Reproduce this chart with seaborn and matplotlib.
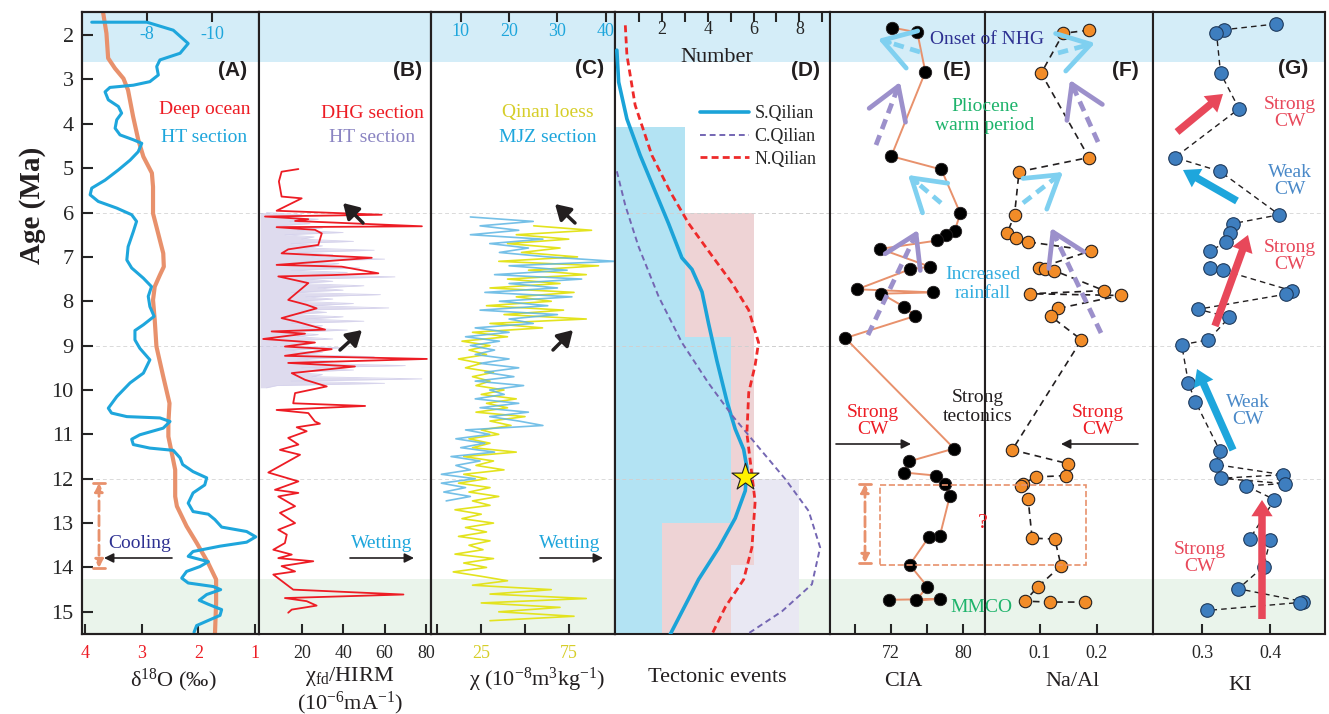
import numpy as np
import matplotlib
matplotlib.use('Agg')
import matplotlib.pyplot as plt
import seaborn as sns
from matplotlib.patches import FancyArrowPatch, Rectangle
from matplotlib.lines import Line2D

sns.set_style('white')
plt.rcParams['font.family'] = ['Liberation Serif', 'DejaVu Sans']
plt.rcParams['mathtext.fontset'] = 'custom'
plt.rcParams['mathtext.rm'] = 'Liberation Serif'
plt.rcParams['mathtext.it'] = 'Liberation Serif:italic'
plt.rcParams['axes.linewidth'] = 1.5
plt.rcParams['axes.edgecolor'] = '#231F20'
plt.rcParams['axes.unicode_minus'] = False

# ---------------- data ----------------
# (A) oxygen isotopes
ht_age = [1.71, 1.71, 1.89, 2.19, 2.41, 2.56, 2.71, 2.90, 3.05, 3.13, 3.18, 3.28, 3.46, 3.61, 3.76,
          3.91, 4.10, 4.25, 4.36, 4.44, 4.63, 4.82, 5.04, 5.27, 5.45, 5.60, 5.75, 5.90, 6.05, 6.20,
          6.43, 6.77, 7.07, 7.25, 7.48, 7.67, 7.89, 8.12, 8.34, 8.53, 8.66, 8.87, 9.06, 9.32, 9.62,
          9.84, 10.15, 10.41, 10.52, 10.60, 10.63, 10.71, 10.86, 11.01, 11.11, 11.23, 11.31, 11.36,
          11.53, 11.68, 11.84, 11.98, 12.14, 12.32, 12.55, 12.74, 12.80, 12.92, 13.09, 13.19, 13.31,
          13.43, 13.52, 13.64, 13.75, 13.82, 13.87, 13.98, 14.09, 14.24, 14.35, 14.43, 14.50, 14.61,
          14.74, 14.83, 14.95, 15.08, 15.21, 15.31, 15.46]
ht_d18o = [-6.30, -8.00, -8.81, -9.27, -9.02, -8.40, -8.30, -8.35, -8.09, -7.58, -6.86, -6.71, -6.81,
           -7.12, -7.22, -7.07, -7.02, -7.17, -7.58, -7.84, -7.73, -7.48, -7.12, -6.71, -6.30, -6.25,
           -6.50, -7.07, -7.53, -7.68, -7.58, -7.42, -7.38, -7.53, -7.89, -8.14, -8.04, -8.09, -8.22,
           -7.89, -7.63, -7.63, -7.78, -8.09, -7.89, -7.48, -7.07, -6.81, -6.91, -7.38, -8.40, -8.71,
           -8.50, -7.78, -7.53, -7.58, -8.09, -8.81, -9.02, -9.10, -9.42, -9.84, -9.78, -9.42, -9.27,
           -9.42, -9.89, -10.09, -10.30, -11.07, -11.35, -11.07, -10.25, -9.42, -9.27, -9.63, -9.89,
           -9.63, -9.22, -9.07, -9.27, -10.04, -10.27, -9.84, -9.61, -9.89, -10.30, -10.25, -9.84,
           -9.53, -9.45]
ocean_age = [1.48, 1.96, 2.52, 2.75, 2.98, 3.24, 3.84, 4.36, 4.74, 5.11, 5.42, 6.02, 6.47, 6.92, 7.22,
             7.41, 7.67, 7.97, 8.42, 9.02, 9.70, 10.30, 10.75, 11.05, 11.42, 11.80, 12.40, 12.62,
             13.07, 13.45, 13.90, 14.27, 14.80, 15.50]
ocean_d18o = [3.68, 3.62, 3.59, 3.47, 3.32, 3.24, 3.15, 3.06, 2.97, 2.82, 2.80, 2.80, 2.71, 2.62, 2.61,
              2.68, 2.77, 2.80, 2.77, 2.74, 2.62, 2.51, 2.53, 2.53, 2.47, 2.41, 2.41, 2.38, 2.21, 2.03,
              1.83, 1.69, 1.69, 1.71]

# (B) chi_fd / HIRM
dhg_age = [5.02, 5.08, 5.30, 5.64, 5.68, 5.96, 6.05, 6.09, 6.15, 6.19, 6.31, 6.33, 6.39, 6.47, 6.73,
           6.83, 6.92, 7.02, 7.18, 7.22, 7.37, 7.41, 7.44, 7.59, 7.97, 8.08, 8.16, 8.38, 8.46, 8.64,
           8.68, 8.73, 8.85, 8.93, 9.02, 9.08, 9.23, 9.30, 9.39, 9.47, 9.62, 9.77, 9.92, 10.07, 10.30,
           10.36, 10.45, 10.52, 10.71, 10.76, 10.84, 10.93, 11.08, 11.23, 11.35, 11.46, 11.86, 12.06,
           12.25, 12.32, 12.40, 12.62, 12.77, 13.00, 13.15, 13.26, 13.45, 13.60, 13.71, 13.79, 13.86,
           13.97, 14.09, 14.16, 14.50, 14.61, 14.69, 14.76, 14.86, 14.95, 15.02]
dhg_val = [18.4, 10.3, 9.0, 10.3, 20.0, 7.9, 58.6, 2.3, 23.2, 16.8, 78.0, 7.9, 26.4, 29.7, 28.0,
           13.5, 10.3, 53.8, 7.9, 39.3, 57.0, 34.5, 8.7, 23.2, 13.5, 22.4, 27.2, 10.3, 17.6, 31.3,
           5.5, 21.6, 1.4, 26.4, 11.9, 34.5, 11.9, 80.4, 13.5, 45.7, 15.2, 21.6, 32.1, 16.8, 15.9,
           50.6, 7.9, 23.2, 26.4, 28.8, 17.6, 22.4, 13.5, 18.4, 9.5, 19.2, 3.9, 18.4, 7.1, 18.4,
           8.7, 16.8, 9.5, 16.8, 8.7, 12.8, 11.9, 6.3, 15.2, 8.7, 25.6, 10.3, 16.8, 6.3, 15.9,
           69.1, 11.9, 22.4, 27.2, 15.2, 13.5]
htb_age = [6.00, 6.05, 6.10, 6.15, 6.20, 6.25, 6.30, 6.35, 6.40, 6.45, 6.50, 6.55, 6.60, 6.65, 6.70,
           6.75, 6.80, 6.85, 6.90, 6.95, 7.00, 7.05, 7.10, 7.15, 7.20, 7.25, 7.30, 7.35, 7.40, 7.45,
           7.50, 7.55, 7.60, 7.65, 7.70, 7.75, 7.80, 7.85, 7.90, 7.95, 8.00, 8.05, 8.10, 8.15, 8.20,
           8.25, 8.30, 8.35, 8.40, 8.45, 8.50, 8.55, 8.60, 8.65, 8.70, 8.75, 8.80, 8.85, 8.90, 8.95,
           9.00, 9.05, 9.10, 9.15, 9.20, 9.25, 9.30, 9.35, 9.40, 9.45, 9.50, 9.55, 9.60, 9.65, 9.70,
           9.75, 9.80, 9.85, 9.90, 9.95]
htb_val = [3, 20, 10, 28, 14, 24, 8, 30, 18, 40, 12, 26, 20, 45, 15, 30, 22, 55, 18, 35,
           25, 60, 20, 38, 28, 48, 15, 42, 25, 65, 22, 35, 18, 50, 28, 40, 15, 58, 22, 35,
           18, 45, 25, 62, 20, 32, 14, 40, 22, 50, 15, 30, 20, 42, 12, 28, 18, 35, 10, 25,
           15, 40, 12, 30, 20, 55, 18, 35, 25, 70, 20, 45, 15, 30, 25, 78, 15, 60, 8, 3]

# (C) magnetic susceptibility
qinan_age = [6.3, 6.4, 6.5, 6.6, 6.7, 6.8, 6.9, 7.0, 7.1, 7.2, 7.3, 7.4, 7.5, 7.6, 7.7, 7.8, 7.9, 8.0,
             8.1, 8.2, 8.3, 8.4, 8.5, 8.6, 8.7, 8.8, 8.9, 9.0, 9.1, 9.2, 9.3, 9.4, 9.5, 9.6, 9.7, 9.8,
             9.9, 10.0, 10.1, 10.2, 10.3, 10.4, 10.5, 10.6, 10.7, 10.8, 10.9, 11.0, 11.1, 11.2, 11.3,
             11.4, 11.5, 11.6, 11.7, 11.8, 11.9, 12.0, 12.1, 12.2, 12.3, 12.4, 12.5, 12.6, 12.7, 12.8,
             12.9, 13.0, 13.1, 13.2, 13.3, 13.4, 13.5, 13.6, 13.7, 13.8, 13.9, 14.0, 14.1, 14.2, 14.3,
             14.4, 14.5, 14.6, 14.7, 14.8, 14.9, 15.0, 15.1, 15.2]
qinan_chi = [55, 88, 45, 75, 40, 70, 48, 80, 35, 92, 52, 85, 40, 70, 30, 78, 45, 65, 28, 72,
             38, 85, 30, 60, 20, 40, 14, 30, 18, 28, 12, 25, 16, 32, 20, 30, 22, 38, 25, 45,
             28, 40, 22, 50, 30, 42, 25, 35, 18, 30, 20, 45, 15, 32, 22, 38, 15, 28, 12, 30,
             18, 35, 20, 30, 10, 25, 14, 32, 16, 28, 12, 30, 18, 26, 10, 32, 15, 28, 9, 25,
             40, 20, 65, 30, 85, 25, 70, 35, 78, 30]
mjz_age = [6.1, 6.2, 6.3, 6.4, 6.5, 6.6, 6.7, 6.8, 6.9, 7.0, 7.1, 7.2, 7.3, 7.4, 7.5, 7.6, 7.7, 7.8,
           7.9, 8.0, 8.1, 8.2, 8.3, 8.4, 8.5, 8.6, 8.7, 8.8, 8.9, 9.0, 9.1, 9.2, 9.3, 9.4, 9.5, 9.6,
           9.7, 9.8, 9.9, 10.0, 10.1, 10.2, 10.3, 10.4, 10.5, 10.6, 10.7, 10.8, 10.9, 11.0, 11.1,
           11.2, 11.3, 11.4, 11.5, 11.6, 11.7, 11.8, 11.9, 12.0, 12.1, 12.2, 12.3, 12.4, 12.5]
mjz_chi = [12, 25, 14, 22, 12, 27, 16, 24, 18, 28, 41.9, 20, 32, 17, 35, 20, 30, 15, 33, 18,
           28, 14, 30, 20, 25, 13, 20, 11, 18, 12, 17, 13, 20, 14, 22, 15, 21, 13, 23, 16,
           19, 13, 22, 14, 24, 16, 22, 27, 11, 16, 9, 15, 10, 17, 8, 14, 9, 12, 6, 13,
           6, 11, 6.5, 12, 7]

# (D) tectonic events
sq_bin_top = [4.07, 8.80, 13.00]
sq_bin_bot = [8.80, 13.00, 15.50]
sq_count = [3, 5, 2]
nq_bin_top = [6.00, 13.94]
nq_bin_bot = [13.94, 15.50]
nq_count = [6, 5]
cq_bin_top = [12.00]
cq_bin_bot = [15.50]
cq_count = [8]
sq_age = [2.34, 3.06, 3.89, 4.71, 5.53, 6.25, 7.02, 7.28, 7.79, 8.51, 9.34, 10.26, 10.88, 11.34,
          11.75, 12.27, 12.89, 13.56, 14.27, 15.51]
sq_num = [0.03, 0.11, 0.47, 1.05, 1.71, 2.29, 2.87, 3.31, 3.75, 4.04, 4.40, 4.84, 5.20, 5.57,
          5.71, 5.64, 5.20, 4.48, 3.60, 2.36]
cq_age = [5.07, 5.84, 6.77, 7.90, 8.93, 9.85, 10.57, 11.29, 12.01, 12.73, 13.55, 14.38, 14.99, 15.51]
cq_num = [0.03, 0.40, 0.98, 1.86, 2.87, 4.04, 5.06, 6.22, 7.39, 8.41, 8.91, 8.55, 7.24, 5.71]
nq_age = [1.78, 2.45, 3.58, 4.71, 5.53, 6.25, 6.97, 7.59, 8.20, 8.93, 9.44, 10.06, 10.98, 11.91,
          12.52, 13.55, 14.27, 14.89, 15.51]
nq_num = [0.40, 0.47, 0.83, 1.56, 2.36, 3.17, 4.18, 5.06, 5.79, 6.22, 6.07, 5.79, 5.71, 5.93,
          6.07, 5.93, 5.57, 4.77, 4.18]
star_age = [11.96]
star_num = [5.64]

# (E) CIA
cia_age = [1.83, 1.94, 2.83, 4.73, 5.03, 6.02, 6.41, 6.50, 6.63, 6.82, 7.22, 7.28, 7.73, 7.80, 7.83,
           8.12, 8.33, 8.83, 11.32, 11.61, 11.86, 11.93, 12.11, 12.40, 13.30, 13.32, 13.94, 14.43,
           14.74, 14.71, 14.73]
cia_val = [72.11, 74.91, 75.80, 72.03, 77.57, 79.67, 79.05, 78.12, 77.13, 70.82, 76.29, 74.07, 68.27,
           76.65, 70.93, 73.41, 74.69, 66.94, 78.98, 73.99, 73.44, 77.02, 78.01, 78.50, 77.39, 76.17,
           74.07, 76.02, 74.80, 77.39, 71.75]
# (F) Na/Al
naal_age = [1.89, 1.96, 2.86, 4.76, 5.08, 6.05, 6.47, 6.58, 6.66, 6.86, 7.25, 7.28, 7.31, 7.76, 7.83,
            7.87, 8.16, 8.34, 8.87, 11.35, 11.66, 11.93, 11.96, 12.11, 12.17, 12.46, 13.34, 13.36,
            13.96, 14.44, 14.76, 14.78, 14.78]
naal_val = [0.186, 0.141, 0.102, 0.186, 0.063, 0.055, 0.042, 0.058, 0.078, 0.190, 0.098, 0.108, 0.125,
            0.213, 0.082, 0.242, 0.132, 0.119, 0.173, 0.051, 0.149, 0.145, 0.093, 0.070, 0.067, 0.079,
            0.086, 0.126, 0.137, 0.096, 0.073, 0.117, 0.180]
# (G) KI
ki_age = [1.75, 1.88, 1.95, 2.86, 3.66, 4.76, 5.07, 6.05, 6.25, 6.46, 6.66, 6.87, 7.26, 7.30, 7.76,
          7.84, 8.18, 8.36, 8.87, 8.98, 9.85, 10.26, 11.37, 11.68, 11.91, 11.99, 12.11, 12.16, 12.47,
          13.35, 13.37, 13.98, 14.48, 14.77, 14.79, 14.97]
ki_val = [0.408, 0.332, 0.321, 0.327, 0.354, 0.260, 0.326, 0.413, 0.345, 0.341, 0.335, 0.312, 0.312,
          0.330, 0.431, 0.423, 0.294, 0.340, 0.309, 0.270, 0.280, 0.290, 0.326, 0.320, 0.419, 0.327,
          0.421, 0.364, 0.406, 0.370, 0.400, 0.390, 0.353, 0.448, 0.443, 0.307]

age_ticks = [2, 3, 4, 5, 6, 7, 8, 9, 10, 11, 12, 13, 14, 15]

# ---------------- colours ----------------
C_RED = '#ED1C24'
C_BLUE = '#1EA6DC'
C_ORANGE = '#E8916C'
C_NAVY = '#2E3192'
C_GREEN = '#1DB36B'
C_PURPLE = '#8A84C2'
C_YELLOW = '#D6CE2A'
BAND_BLUE = '#D4EDF8'
BAND_GREEN = '#EAF4EB'

# ---------------- layout ----------------
W, H = 1329, 714
fig = plt.figure(figsize=(W / 100, H / 100), dpi=100)
TOP, BOT = 12, 634
AGE_LIM = (15.5, 1.48)


def F(x, y):
    return (x / W, 1 - y / H)


def mkax(x0, x1):
    ax = fig.add_axes([x0 / W, 1 - BOT / H, (x1 - x0) / W, (BOT - TOP) / H])
    ax.axhspan(1.48, 2.6, color=BAND_BLUE, lw=0, zorder=0)
    ax.axhspan(14.26, 15.5, color=BAND_GREEN, lw=0, zorder=0)
    for a in (6, 9, 12):
        ax.axhline(a, color='#DADADA', lw=0.7, ls=(0, (4, 3)), zorder=0.5)
    for s in ax.spines.values():
        s.set_linewidth(1.5)
        s.set_color('#231F20')
    ax.tick_params(axis='x', which='both', direction='in', length=7, width=1.5,
                   labelsize=13, pad=8, top=False, bottom=True)
    ax.tick_params(axis='y', left=False, labelleft=False)
    return ax


def txt(x, y, s, color='#231F20', size=14, **kw):
    fig.text(x / W, 1 - y / H, s, ha='center', va='center', color=color, fontsize=size, **kw)


def ptxt(x, y, s):
    fig.text(x / W, 1 - y / H, s, ha='center', va='center', color='#231F20', fontsize=15,
             fontweight='bold', family='Liberation Sans')


def arrow(x0, y0, x1, y1, style='-|>', color='#231F20', lw=1.2, ms=14, ls='-', z=5):
    p = FancyArrowPatch(F(x0, y0), F(x1, y1), transform=fig.transFigure, arrowstyle=style,
                        color=color, lw=lw, mutation_scale=ms, linestyle=ls, zorder=z,
                        shrinkA=0, shrinkB=0)
    fig.add_artist(p)


def chevron(x0, y0, x1, y1, color):
    dx, dy = x1 - x0, y1 - y0
    L = np.hypot(dx, dy)
    ux, uy = dx / L, dy / L
    ex, ey = x1 - 6 * ux, y1 - 6 * uy
    fig.add_artist(Line2D([x0 / W, ex / W], [1 - y0 / H, 1 - ey / H], transform=fig.transFigure,
                          color=color, lw=3.4, ls=(0, (2.2, 1.4)), zorder=4))
    arrow(x1 - 12 * ux, y1 - 12 * uy, x1, y1, style='->, head_length=0.8, head_width=0.5',
          color=color, lw=3.4, ms=28, z=4)


def block(x0, y0, x1, y1, color):
    arrow(x0, y0, x1, y1, style='simple, head_length=1.3, head_width=1.7, tail_width=0.6',
          color=color, lw=0, ms=9, z=4)


# ---------------- (A) ----------------
axA = mkax(82, 259)
sns.lineplot(x=ocean_d18o, y=ocean_age, sort=False, estimator=None, color=C_ORANGE, lw=3.0, ax=axA)
axA.set_xlim(4.05, 0.935)
axA.set_xticks([4, 3, 2, 1])
axA.tick_params(axis='x', labelcolor=C_RED)
axA.set_yticks(age_ticks)
axA.tick_params(axis='y', left=True, labelleft=True, direction='in', length=8, width=1.5,
                labelsize=16, pad=6)
axA2 = axA.twiny()
sns.lineplot(x=ht_d18o, y=ht_age, sort=False, estimator=None, color=C_BLUE, lw=2.2, ax=axA2)
axA2.set_xlim(-6.0, -11.45)
axA2.set_xticks([-8, -10])
axA2.tick_params(axis='x', direction='in', length=7, width=1.5, labelsize=13, pad=-22,
                 labelcolor=C_BLUE, top=True, bottom=False)
axA.set_ylim(*AGE_LIM)
for a in (axA, axA2):
    a.set_xlabel('')
    a.set_ylabel('')

# ---------------- (B) ----------------
axB = mkax(259, 431)
axB.fill_betweenx(htb_age, 0, htb_val, color='#C8C4E4', alpha=0.6, lw=0, zorder=1)
sns.lineplot(x=htb_val, y=htb_age, sort=False, estimator=None, color='#D6D3EC', lw=0.6, ax=axB)
sns.lineplot(x=dhg_val, y=dhg_age, sort=False, estimator=None, color=C_RED, lw=1.3, ax=axB)
axB.set_xlim(-0.6, 82.4)
axB.set_xticks([20, 40, 60, 80])
axB.set_ylim(*AGE_LIM)
axB.set_xlabel('')

# ---------------- (C) ----------------
axC = mkax(431, 615)
sns.lineplot(x=qinan_chi, y=qinan_age, sort=False, estimator=None, color='#E3E31E', lw=1.2, ax=axC)
axC.set_xlim(-3.7, 101.4)
axC.set_xticks([0, 25, 50, 75])
axC.set_xticklabels(['', '25', '', '75'])
axC.tick_params(axis='x', labelcolor=C_YELLOW)
axC2 = axC.twiny()
sns.lineplot(x=mjz_chi, y=mjz_age, sort=False, estimator=None, color='#5DB5E3', lw=1.2,
             alpha=0.85, ax=axC2)
axC2.set_xlim(3.86, 41.9)
axC2.set_xticks([10, 20, 30, 40])
axC2.tick_params(axis='x', direction='in', length=7, width=1.5, labelsize=13, pad=-20,
                 labelcolor=C_BLUE, top=True, bottom=False)
axC.set_ylim(*AGE_LIM)
for a in (axC, axC2):
    a.set_xlabel('')

# ---------------- (D) ----------------
axD = mkax(615, 830)
for t, b, n in zip(cq_bin_top, cq_bin_bot, cq_count):
    axD.barh((t + b) / 2, n, height=b - t, left=0, color='#E9E8F3', lw=0, zorder=1)
for t, b, n in zip(nq_bin_top, nq_bin_bot, nq_count):
    axD.barh((t + b) / 2, n, height=b - t, left=0, color='#EED3D5', lw=0, zorder=1.1)
for t, b, n in zip(sq_bin_top, sq_bin_bot, sq_count):
    axD.barh((t + b) / 2, n, height=b - t, left=0, color='#B3E3F3', lw=0, zorder=1.2)
for a in (6, 9, 12):
    axD.axhline(a, color='#D0D0D0', lw=0.7, ls=(0, (4, 3)), zorder=1.3)
sns.lineplot(x=sq_num, y=sq_age, sort=False, estimator=None, color='#1BA3D8', lw=2.6,
             label='S.Qilian', ax=axD, zorder=3)
sns.lineplot(x=cq_num, y=cq_age, sort=False, estimator=None, color='#7466B3', lw=1.4,
             ls=(0, (3, 2)), label='C.Qilian', ax=axD, zorder=3)
sns.lineplot(x=nq_num, y=nq_age, sort=False, estimator=None, color='#EE2A2A', lw=2.0,
             ls=(0, (2.5, 1.5)), label='N.Qilian', ax=axD, zorder=3)
sns.scatterplot(x=star_num, y=star_age, marker='*', s=420, color='#FFF200', edgecolor='#231F20',
                linewidth=0.8, ax=axD, zorder=4, legend=False)
axD.set_xlim(-0.05, 9.34)
axD.set_ylim(*AGE_LIM)
axD.set_xticks([2, 4, 6, 8])
axD.set_xticks([1, 3, 5, 7, 9], minor=True)
axD.tick_params(axis='x', which='both', direction='in', length=7, width=1.5, top=True,
                bottom=False, labeltop=True, labelbottom=False, pad=-19, labelsize=13)
axD.set_xlabel('')
axD.legend(loc='upper right', bbox_to_anchor=(0.97, 0.862), frameon=False, fontsize=13,
           handlelength=2.7, labelspacing=0.32, handletextpad=0.3, borderaxespad=0)

# ---------------- (E) ----------------
axE = mkax(830, 985)
sns.lineplot(x=cia_val, y=cia_age, sort=False, estimator=None, color=C_ORANGE, lw=1.4, ax=axE)
sns.scatterplot(x=cia_val, y=cia_age, color='black', edgecolor='#231F20', s=80, linewidth=0.6,
                ax=axE, zorder=3, legend=False)
axE.set_xlim(65.25, 82.4)
axE.set_xticks([68, 72, 76, 80])
axE.set_xticklabels(['', '72', '', '80'])
axE.set_ylim(*AGE_LIM)
axE.set_xlabel('')

# ---------------- (F) ----------------
axF = mkax(985, 1153)
sns.lineplot(x=naal_val, y=naal_age, sort=False, estimator=None, color='#231F20', lw=1.2,
             ls=(0, (4, 3)), ax=axF)
sns.scatterplot(x=naal_val, y=naal_age, color='#F28C28', edgecolor='#231F20', s=80, linewidth=0.8,
                ax=axF, zorder=3, legend=False)
axF.set_xlim(0.003, 0.299)
axF.set_xticks([0.1, 0.2])
axF.set_xticklabels(['0.1', '0.2'])
axF.set_ylim(*AGE_LIM)
axF.set_xlabel('')

# ---------------- (G) ----------------
axG = mkax(1153, 1325)
sns.lineplot(x=ki_val, y=ki_age, sort=False, estimator=None, color='#231F20', lw=1.0,
             ls=(0, (4, 3)), ax=axG)
sns.scatterplot(x=ki_val, y=ki_age, color='#3E7EBF', edgecolor='#1E3A5C', s=95, linewidth=0.8,
                ax=axG, zorder=3, legend=False)
axG.set_xlim(0.228, 0.480)
axG.set_xticks([0.3, 0.4])
axG.set_xticklabels(['0.3', '0.4'])
axG.set_ylim(*AGE_LIM)
axG.set_xlabel('')

# ---------------- annotations ----------------
fig.text(33 / W, 1 - 205 / H, 'Age (Ma)', rotation=90, ha='center', va='center', fontsize=21,
         fontweight='bold', color='#231F20')

# A
ptxt(233, 70, '(A)')
txt(205, 110, 'Deep ocean', C_RED)
txt(204, 137, 'HT section', C_BLUE)
txt(140, 543, 'Cooling', C_NAVY)
arrow(172, 558, 104, 558)
arrow(99, 483, 99, 568, style='<|-|>', color=C_ORANGE, lw=2.0, ms=12, ls='--')
for yy in (483, 568):
    fig.add_artist(Line2D([93 / W, 105 / W], [1 - yy / H, 1 - yy / H], transform=fig.transFigure,
                          color=C_ORANGE, lw=2.0))
txt(173, 680, 'δ$^{\\mathrm{18}}$O (‰)', size=16)

# B
ptxt(408, 70, '(B)')
txt(372, 113, 'DHG section', C_RED)
txt(372, 137, 'HT section', C_PURPLE)
arrow(363, 223, 343, 203, style='-|>, head_length=0.5, head_width=0.3', lw=2.5, ms=18)
arrow(340, 350, 362, 330, style='-|>, head_length=0.5, head_width=0.3', lw=2.5, ms=18)
txt(382, 543, 'Wetting', C_BLUE)
arrow(350, 558, 414, 558)
txt(350, 677, 'χ$_{\\mathrm{fd}}$/HIRM', size=16)
txt(350, 703, '(10$^{\\mathrm{-6}}$mA$^{\\mathrm{-1}}$)', size=16)

# C
ptxt(590, 68, '(C)')
txt(548, 113, 'Qinan loess', C_YELLOW)
txt(548, 137, 'MJZ section', C_BLUE)
arrow(575, 223, 555, 204, style='-|>, head_length=0.5, head_width=0.3', lw=2.5, ms=18)
arrow(553, 350, 573, 330, style='-|>, head_length=0.5, head_width=0.3', lw=2.5, ms=18)
txt(570, 543, 'Wetting', C_BLUE)
arrow(540, 558, 603, 558)
txt(537, 680, 'χ (10$^{\\mathrm{-8}}$m$^{\\mathrm{3}}$kg$^{\\mathrm{-1}}$)', size=16)

# D
txt(717, 57, 'Number', size=16)
ptxt(805, 71, '(D)')
txt(717, 678, 'Tectonic events', size=16)

# E / F
txt(987, 39, 'Onset of NHG', C_NAVY)
ptxt(957, 71, '(E)')
ptxt(1125, 70, '(F)')
txt(985, 116, 'Pliocene\nwarm period', C_GREEN, linespacing=1.1)
txt(983, 284, 'Increased\nrainfall', '#35AEE0', linespacing=1.1)
txt(978, 407, 'Strong\ntectonics', linespacing=1.1)
txt(873, 421, 'Strong\nCW', C_RED, linespacing=1.05)
txt(1098, 421, 'Strong\nCW', C_RED, linespacing=1.05)
arrow(836, 444, 911, 444)
arrow(1138, 444, 1061, 444)
txt(983, 523, '?', C_RED, size=16)
fig.add_artist(Rectangle(F(880, 565), (1086 - 880) / W, (565 - 485) / H, transform=fig.transFigure,
                         fill=False, ec=C_ORANGE, lw=1.2, ls='--', zorder=3))
arrow(865, 484, 865, 563, style='<|-|>', color=C_ORANGE, lw=2.0, ms=12, ls='--')
for yy in (484, 563):
    fig.add_artist(Line2D([859 / W, 871 / W], [1 - yy / H, 1 - yy / H], transform=fig.transFigure,
                          color=C_ORANGE, lw=2.0))
txt(981, 608, 'MMCO', C_GREEN)
txt(903, 682, 'CIA', size=16)
txt(1073, 682, 'Na/Al', size=16)

CH_BLUE = '#7FD0F0'
CH_PURP = '#9C90CB'
chevron(920, 52, 878, 39, CH_BLUE)
chevron(876, 145, 900, 82, CH_PURP)
chevron(941, 203, 908, 175, CH_BLUE)
chevron(868, 335, 918, 230, CH_PURP)
chevron(1058, 53, 1095, 43, CH_BLUE)
chevron(1098, 142, 1070, 80, CH_PURP)
chevron(1023, 203, 1063, 172, CH_BLUE)
chevron(1101, 333, 1051, 228, CH_PURP)

# G
ptxt(1293, 68, '(G)')
C_GB = '#4A89C8'
C_GR = '#E8485A'
txt(1290, 113, 'Strong\nCW', C_GR, linespacing=1.05)
txt(1290, 181, 'Weak\nCW', C_GB, linespacing=1.05)
txt(1290, 256, 'Strong\nCW', C_GR, linespacing=1.05)
txt(1248, 411, 'Weak\nCW', C_GB, linespacing=1.05)
txt(1200, 558, 'Strong\nCW', C_GR, linespacing=1.05)
block(1177, 132, 1223, 94, C_GR)
block(1237, 201, 1183, 170, '#1EA6DC')
block(1215, 326, 1248, 235, C_GR)
block(1233, 450, 1197, 369, '#1EA6DC')
block(1262, 619, 1262, 500, C_GR)
txt(1240, 685, 'KI', size=16)

fig.savefig('out.png', dpi=100)
